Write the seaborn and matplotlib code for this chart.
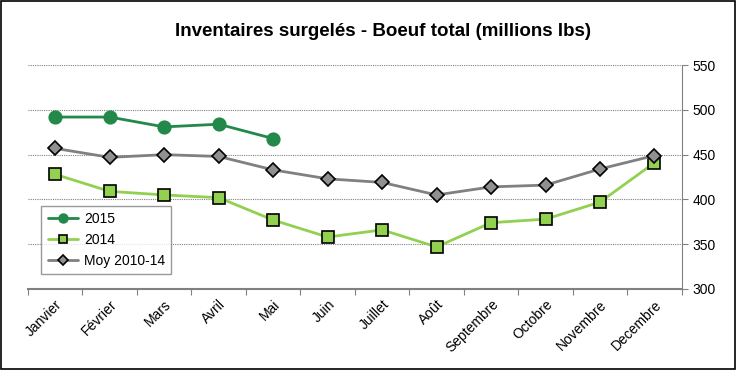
import matplotlib.pyplot as plt
import seaborn as sns
import pandas as pd
import numpy as np

mois = ['Janvier', 'Février', 'Mars', 'Avril', 'Mai', 'Juin', 'Juillet',
        'Août', 'Septembre', 'Octobre', 'Novembre', 'Decembre']
v2015 = [492, 492, 481, 484, 468]
v2014 = [428, 409, 405, 402, 377, 358, 366, 347, 374, 378, 397, 441]
moy = [457, 447, 450, 448, 433, 423, 419, 405, 414, 416, 434, 449]

sns.set_style('white')
plt.rcParams['font.family'] = ['Liberation Sans', 'DejaVu Sans']
plt.rcParams['text.color'] = 'black'
plt.rcParams['xtick.color'] = 'black'
plt.rcParams['ytick.color'] = 'black'

fig = plt.figure(figsize=(7.37, 3.70), dpi=100)
ax = fig.add_axes([0.038, 0.219, 0.887, 0.605])

series = [
    ('2015', v2015, '#22894A', 'o', '#22894A', '#22894A', 9),
    ('2014', v2014, '#92D050', 's', '#92D050', 'black', 9),
    ('Moy 2010-14', moy, '#808080', 'D', '#909090', 'black', 7),
]
for name, vals, col, mk, mfc, mec, ms in series:
    df = pd.DataFrame({'x': np.arange(len(vals)), 'y': vals})
    sns.lineplot(data=df, x='x', y='y', ax=ax, color=col, lw=2,
                 marker=mk, markersize=ms, markerfacecolor=mfc,
                 markeredgecolor=mec, markeredgewidth=1.2, label=name)

ax.set_xlim(-0.5, 11.5)
ax.set_ylim(300, 550)
ax.set_yticks(range(300, 551, 50))
ax.yaxis.tick_right()
ax.tick_params(axis='y', labelsize=10, length=4, color='#808080',
               labelcolor='black', right=True, pad=4)
ax.set_xticks(np.arange(-0.5, 12, 1))
ax.set_xticklabels([])
ax.set_xticks(np.arange(12), minor=True)
ax.set_xticklabels(mois, minor=True, rotation=45, ha='right',
                   rotation_mode='anchor', fontsize=10, color='black')
ax.tick_params(axis='x', which='major', length=4, color='#808080', bottom=True)
ax.tick_params(axis='x', which='minor', length=0, pad=6)
ax.set_xlabel('')
ax.set_ylabel('')
for y in range(350, 551, 50):
    ax.axhline(y, color='#808080', lw=0.8, ls=(0, (1, 1)), zorder=0)
ax.spines['left'].set_visible(False)
ax.spines['top'].set_visible(False)
ax.spines['right'].set_color('#808080')
ax.spines['bottom'].set_color('#808080')
ax.spines['bottom'].set_linewidth(1.5)

leg = ax.legend(loc='lower left', bbox_to_anchor=(0.01, 0.035), fontsize=10,
                frameon=True, fancybox=False, edgecolor='#808080',
                handlelength=2.2, handletextpad=0.4, borderpad=0.45,
                labelspacing=0.5, markerscale=0.7)
leg.get_frame().set_linewidth(1)

fig.text(0.52, 0.915, 'Inventaires surgelés - Boeuf total (millions lbs)',
         ha='center', va='center', fontsize=13.5, fontweight='bold')
fig.patches.append(plt.Rectangle((0.002, 0.003), 0.995, 0.994, transform=fig.transFigure,
                                 fill=False, edgecolor='black', lw=1.2))

fig.savefig('out.png', dpi=100)
